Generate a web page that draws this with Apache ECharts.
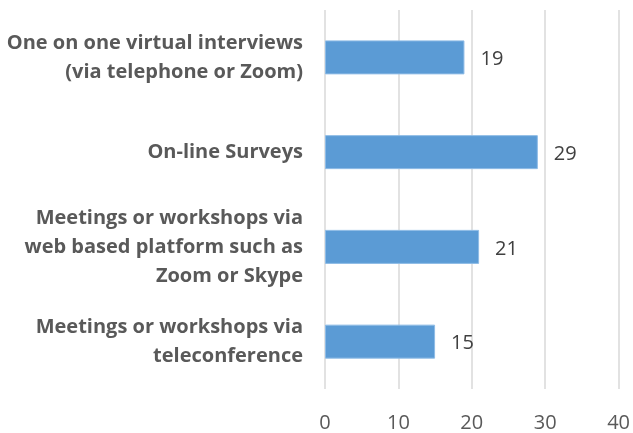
<!DOCTYPE html>
<html>
<head>
<meta charset="utf-8">
<script src="https://cdn.jsdelivr.net/npm/echarts@6/dist/echarts.min.js"></script>
<style>
    html,body{margin:0;padding:0;background:#fff;}
    #chart{width:633px;height:433px;}
</style>
</head>
<body>
<div id="chart"></div>
<script>
    // categories, top to bottom
    var categories = [
        'One on one virtual interviews\n(via telephone or Zoom)',
        'On-line Surveys',
        'Meetings or workshops via\nweb based platform such as\nZoom or Skype',
        'Meetings or workshops via\nteleconference'
    ];
    var counts = [19, 29, 21, 15];
    var xTicks = [0, 10, 20, 30, 40];

    var myChart = echarts.init(document.getElementById('chart'));

    var option = {
        animation: false,
        grid: {left: 325, right: 11, top: 10, bottom: 41, containLabel: false},
        xAxis: {
            type: 'value',
            min: xTicks[0],
            max: xTicks[xTicks.length - 1],
            interval: 10,
            axisLine: {show: false},
            axisTick: {show: false},
            axisLabel: {
                color: '#595959',
                fontSize: 20,
                fontFamily: 'Open Sans',
                margin: 24
            },
            splitLine: {
                show: true,
                lineStyle: {color: '#D9D9D9', width: 1.5}
            }
        },
        yAxis: {
            type: 'category',
            inverse: true,
            data: categories,
            axisLine: {show: false},
            axisTick: {show: false},
            axisLabel: {
                color: '#595959',
                fontSize: 20,
                fontWeight: 'bold',
                fontFamily: 'Open Sans',
                lineHeight: 29,
                align: 'right',
                margin: 22
            }
        },
        series: [{
            type: 'bar',
            data: counts,
            barWidth: 34,
            itemStyle: {
                color: '#5B9BD5',
                borderColor: '#8FBCE6',
                borderWidth: 1
            },
            label: {
                show: true,
                position: 'right',
                distance: 16,
                offset: [0, 2],
                color: '#404040',
                fontSize: 20,
                fontFamily: 'Open Sans'
            }
        }]
    };
    myChart.setOption(option, true);
</script>
</body>
</html>
